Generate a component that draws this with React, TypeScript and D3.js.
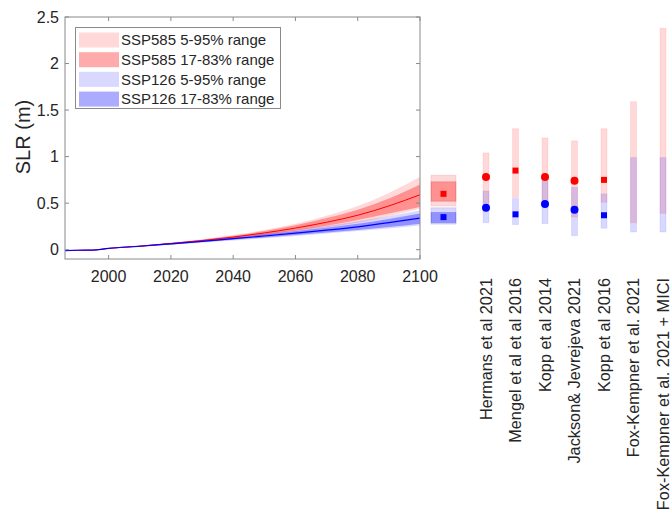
import React from "react";
import * as d3 from "d3";

// Projected sea-level rise time series (m), relative to baseline
const years = [1986, 1990, 1995, 2000, 2010, 2020, 2030, 2040, 2050, 2060, 2070, 2080, 2090, 2100];
const ssp585P05 = [-0.012, -0.008, -0.006, 0.01, 0.03, 0.055, 0.082, 0.112, 0.148, 0.19, 0.238, 0.29, 0.36, 0.44];
const ssp585P17 = [-0.011, -0.007, -0.005, 0.012, 0.034, 0.061, 0.089, 0.121, 0.16, 0.205, 0.258, 0.32, 0.39, 0.46];
const ssp585P50 = [-0.01, -0.006, -0.004, 0.014, 0.038, 0.067, 0.098, 0.135, 0.18, 0.232, 0.295, 0.37, 0.47, 0.59];
const ssp585P83 = [-0.009, -0.005, -0.003, 0.016, 0.042, 0.073, 0.107, 0.149, 0.2, 0.262, 0.34, 0.43, 0.55, 0.70];
const ssp585P95 = [-0.008, -0.004, -0.002, 0.018, 0.045, 0.077, 0.113, 0.157, 0.212, 0.28, 0.365, 0.47, 0.61, 0.78];

const ssp126P05 = [-0.012, -0.008, -0.006, 0.01, 0.03, 0.052, 0.075, 0.098, 0.122, 0.148, 0.175, 0.2, 0.228, 0.26];
const ssp126P17 = [-0.011, -0.007, -0.005, 0.012, 0.033, 0.057, 0.082, 0.107, 0.132, 0.158, 0.185, 0.212, 0.245, 0.28];
const ssp126P50 = [-0.01, -0.006, -0.004, 0.014, 0.037, 0.063, 0.09, 0.118, 0.147, 0.178, 0.21, 0.245, 0.29, 0.34];
const ssp126P83 = [-0.009, -0.005, -0.003, 0.016, 0.041, 0.069, 0.098, 0.129, 0.162, 0.197, 0.235, 0.278, 0.33, 0.39];
const ssp126P95 = [-0.008, -0.004, -0.002, 0.018, 0.044, 0.073, 0.104, 0.137, 0.173, 0.212, 0.255, 0.305, 0.36, 0.42];

// 2100 summary (5, 17, 50, 83, 95 percentiles)
const summary585 = [0.47, 0.52, 0.60, 0.73, 0.80];
const summary126 = [0.275, 0.29, 0.35, 0.40, 0.45];

// Published 2100 ranges
const studies = [
  "Hermans et al 2021",
  "Mengel et al et al 2016",
  "Kopp et al 2014",
  "Jackson& Jevrejeva 2021",
  "Kopp et al 2016",
  "Fox-Kempner et al. 2021",
  "Fox-Kempner et al. 2021 + MICI",
];
const study585Low = [0.50, 0.56, 0.53, 0.35, 0.51, 0.29, 0.39];
const study585High = [1.04, 1.30, 1.20, 1.17, 1.30, 1.59, 2.38];
const study126Low = [0.29, 0.27, 0.28, 0.15, 0.23, 0.19, 0.19];
const study126High = [0.63, 0.55, 0.74, 0.67, 0.60, 0.99, 0.99];
const study585Central = [0.78, 0.85, 0.78, 0.74, 0.75, null, null];
const study126Central = [0.45, 0.38, 0.49, 0.43, 0.37, null, null];
const studyMarker = ["circle", "square", "circle", "circle", "square", null, null];

const yTicks = [0, 0.5, 1, 1.5, 2, 2.5];
const xTicks = [2000, 2020, 2040, 2060, 2080, 2100];
const legendItems = [
  { label: "SSP585 5-95% range", color: "rgba(255,0,0,0.15)" },
  { label: "SSP585 17-83% range", color: "rgba(255,0,0,0.33)" },
  { label: "SSP126 5-95% range", color: "rgba(0,0,255,0.15)" },
  { label: "SSP126 17-83% range", color: "rgba(0,0,255,0.33)" },
];

const W = 670;
const H = 516;
const FONT = "'Liberation Sans', Arial, Helvetica, sans-serif";
const TEXT = "#262626";
const AXIS = "#8a8a8a";

export default function App() {
  const left = 65, right = 420, top = 17, bottom = 259;
  const x = d3.scaleLinear().domain([1986, 2100]).range([left, right]);
  const y = d3.scaleLinear().domain([-0.1, 2.5]).range([bottom, top]);
  const xCat = d3.scalePoint<string>().domain(studies).range([486, 663]);
  const xSummary = 443.5;
  const summaryW = 25;
  const barW = 6;

  const idx = d3.range(years.length);
  const band = (lo: number[], hi: number[]) =>
    d3.area<number>()
      .x((i) => x(years[i]))
      .y0((i) => y(lo[i]))
      .y1((i) => y(hi[i]))
      .curve(d3.curveMonotoneX)(idx) || "";
  const line = (v: number[]) =>
    d3.line<number>()
      .x((i) => x(years[i]))
      .y((i) => y(v[i]))
      .curve(d3.curveMonotoneX)(idx) || "";

  const tickLen = 4;

  const marker = (shape: string | null, cx: number, v: number | null, color: string, key: string) => {
    if (shape == null || v == null) return null;
    if (shape === "circle") return <circle key={key} cx={cx} cy={y(v)} r={4} fill={color} />;
    return <rect key={key} x={cx - 3} y={y(v) - 3} width={6} height={6} fill={color} />;
  };

  return (
    <svg width={W} height={H} style={{ position: "absolute", left: 0, top: 0, background: "#fff" }} fontFamily={FONT}>
      <rect x={0} y={0} width={W} height={H} fill="#fff" />
      <defs>
        <clipPath id="plot-clip">
          <rect x={left} y={top} width={right - left} height={bottom - top} />
        </clipPath>
      </defs>

      {/* projection bands and medians */}
      <g clipPath="url(#plot-clip)">
        <path d={band(ssp585P05, ssp585P95)} fill="rgba(255,0,0,0.15)" />
        <path d={band(ssp585P17, ssp585P83)} fill="rgba(255,0,0,0.33)" />
        <path d={band(ssp126P05, ssp126P95)} fill="rgba(0,0,255,0.15)" />
        <path d={band(ssp126P17, ssp126P83)} fill="rgba(0,0,255,0.33)" />
        <path d={line(ssp585P50)} fill="none" stroke="#ff0000" strokeWidth={1} />
        <path d={line(ssp126P50)} fill="none" stroke="#0000ff" strokeWidth={1.2} />
      </g>

      {/* axes box */}
      <rect x={left} y={top} width={right - left} height={bottom - top} fill="none" stroke={AXIS} strokeWidth={1} />
      {yTicks.map((t) => (
        <g key={"y" + t}>
          <line x1={left} x2={left + tickLen} y1={y(t)} y2={y(t)} stroke={AXIS} />
          <line x1={right} x2={right - tickLen} y1={y(t)} y2={y(t)} stroke={AXIS} />
          <text x={left - 6} y={y(t)} dy="0.35em" textAnchor="end" fontSize={16} fill={TEXT}>{t}</text>
        </g>
      ))}
      {xTicks.map((t) => (
        <g key={"x" + t}>
          <line x1={x(t)} x2={x(t)} y1={bottom} y2={bottom - tickLen} stroke={AXIS} />
          <line x1={x(t)} x2={x(t)} y1={top} y2={top + tickLen} stroke={AXIS} />
          <text x={x(t)} y={276} dy="0.35em" textAnchor="middle" fontSize={16} fill={TEXT}>{t}</text>
        </g>
      ))}
      <text transform={`translate(23,137) rotate(-90)`} textAnchor="middle" dy="0.35em" fontSize={20} fill={TEXT}>SLR (m)</text>

      {/* legend */}
      <g>
        <rect x={75.5} y={27.5} width={205} height={81} fill="#fff" stroke={AXIS} />
        {legendItems.map((d, i) => (
          <g key={d.label} transform={`translate(0, ${40 + i * 19.7})`}>
            <rect x={79} y={-7.5} width={40} height={15} fill={d.color} />
            <text x={121} y={0} dy="0.35em" fontSize={15} fill={TEXT}>{d.label}</text>
          </g>
        ))}
      </g>

      {/* 2100 summary boxes */}
      <g>
        <rect x={xSummary - summaryW / 2} y={y(summary585[4])} width={summaryW} height={y(summary585[0]) - y(summary585[4])} fill="rgba(255,0,0,0.15)" stroke="rgba(255,0,0,0.12)" />
        <rect x={xSummary - summaryW / 2} y={y(summary585[3])} width={summaryW} height={y(summary585[1]) - y(summary585[3])} fill="rgba(255,0,0,0.33)" stroke="rgba(120,0,0,0.15)" />
        <rect x={xSummary - summaryW / 2} y={y(summary126[4])} width={summaryW} height={y(summary126[0]) - y(summary126[4])} fill="rgba(0,0,255,0.15)" stroke="rgba(0,0,255,0.12)" />
        <rect x={xSummary - summaryW / 2} y={y(summary126[3])} width={summaryW} height={y(summary126[1]) - y(summary126[3])} fill="rgba(0,0,255,0.33)" stroke="rgba(0,0,120,0.15)" />
        {marker("square", xSummary, summary585[2], "#ff0000", "s585")}
        {marker("square", xSummary, summary126[2], "#0000ff", "s126")}
      </g>

      {/* study ranges */}
      {studies.map((s, i) => {
        const cx = xCat(s)!;
        return (
          <g key={s}>
            <rect x={cx - barW / 2} y={y(study585High[i])} width={barW} height={y(study585Low[i]) - y(study585High[i])} fill="rgba(255,0,0,0.15)" stroke="rgba(255,0,0,0.08)" />
            <rect x={cx - barW / 2} y={y(study126High[i])} width={barW} height={y(study126Low[i]) - y(study126High[i])} fill="rgba(0,0,255,0.15)" stroke="rgba(0,0,255,0.08)" />
            {marker(studyMarker[i], cx, study585Central[i], "#ff0000", "r" + i)}
            {marker(studyMarker[i], cx, study126Central[i], "#0000ff", "b" + i)}
            <text transform={`translate(${cx},278) rotate(-90)`} textAnchor="end" dy="0.35em" fontSize={16.3} fill={TEXT}>{s}</text>
          </g>
        );
      })}
    </svg>
  );
}
